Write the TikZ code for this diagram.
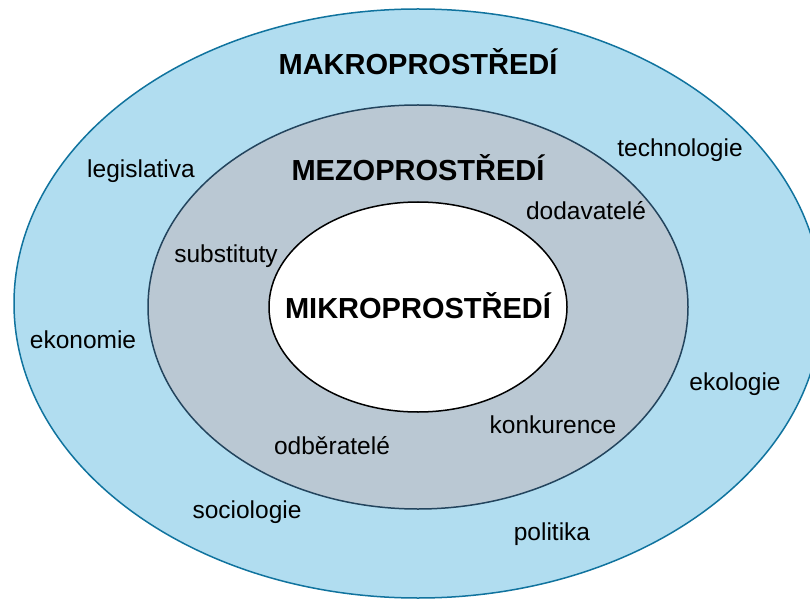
\documentclass[tikz,border=0pt]{standalone}
\usepackage{fontspec}
\setmainfont{Liberation Sans}
\definecolor{outerfill}{HTML}{B1DDF0}
\definecolor{outerdraw}{HTML}{10739E}
\definecolor{midfill}{HTML}{BAC8D3}
\definecolor{middraw}{HTML}{23445D}
\tikzset{
  title/.style={anchor=base, inner sep=0pt, font=\fontsize{29}{29}\selectfont\bfseries},
  lbl/.style={anchor=base, inner sep=0pt, font=\fontsize{24.5}{24.5}\selectfont},
  ring/.style={line width=1.5pt}
}
\begin{document}
\begin{tikzpicture}[x=1pt,y=-1pt]
\useasboundingbox (0,0) rectangle (810,601);
\clip (0,0) rectangle (810,601);
\fill[white] (0,0) rectangle (810,601);
\draw[ring, fill=outerfill, draw=outerdraw] (418,303.5) ellipse [x radius=404pt, y radius=294.5pt];
\draw[ring, fill=midfill, draw=middraw] (418,307) ellipse [x radius=270pt, y radius=202pt];
\draw[ring, fill=white, draw=black] (418,307) ellipse [x radius=149pt, y radius=105pt];

\node[title] (makro) at (418,75) {MAKROPROSTŘEDÍ};
\node[title] (mezo) at (418,181) {MEZOPROSTŘEDÍ};
\node[title] (mikro) at (418,318) {MIKROPROSTŘEDÍ};

\node[lbl] (legis) at (141,178) {legislativa};
\node[lbl] (tech) at (680,157) {technologie};
\node[lbl] (ekon) at (83,348) {ekonomie};
\node[lbl] (ekol) at (735,390) {ekologie};
\node[lbl] (soc) at (247,518) {sociologie};
\node[lbl] (pol) at (552,540) {politika};
\node[lbl] (subst) at (226,262) {substituty};
\node[lbl] (dodav) at (586,220) {dodavatelé};
\node[lbl] (konk) at (553,433) {konkurence};
\node[lbl] (odber) at (332,454) {odběratelé};
\end{tikzpicture}
\end{document}
